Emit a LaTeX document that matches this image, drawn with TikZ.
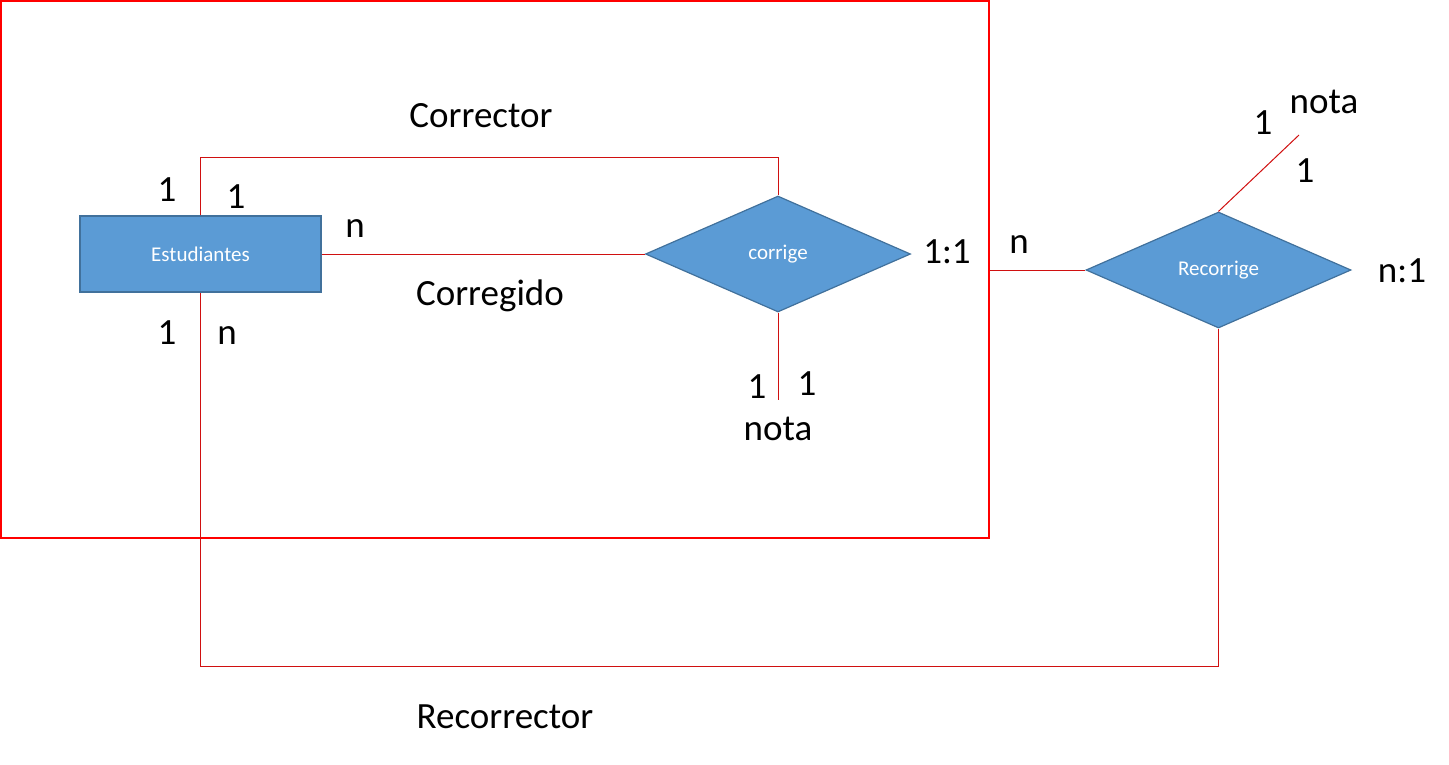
\documentclass[tikz,border=0pt]{standalone}
\usepackage{fontspec}
\setmainfont{Carlito}
\usetikzlibrary{shapes.geometric}
\definecolor{entfill}{HTML}{5B9BD5}
\definecolor{entdraw}{HTML}{41719C}
\definecolor{linkred}{HTML}{D01010}
\definecolor{boxred}{HTML}{FF0000}
\begin{document}
\begin{tikzpicture}[x=1pt,y=-1pt,
  lbl/.style={font=\fontsize{37}{40}\selectfont, anchor=base, inner sep=0pt, text=black},
  entity/.style={rectangle, fill=entfill, draw=entdraw, line width=1.5pt, minimum width=241pt, minimum height=76pt, inner sep=0pt, text=white, font=\fontsize{21}{24}\selectfont},
  rel/.style={diamond, fill=entfill, draw=entdraw, line width=1.2pt, minimum width=265pt, minimum height=116pt, inner sep=0pt, text=white, font=\fontsize{21}{24}\selectfont},
  link/.style={draw=linkred, line width=1pt},
  frame/.style={rectangle, draw=boxred, line width=2pt, inner sep=0pt}]
\useasboundingbox (0,0) rectangle (1449,764);
% frame
\node[frame, minimum width=988pt, minimum height=537pt] (box) at (495,269.5) {};
% shapes
\node[entity] (est) at (200.5,254) {\raisebox{-2pt}{Estudiantes}};
\node[rel] (cor) at (778,254) {\raisebox{-2pt}{corrige}};
\node[rel] (rec) at (1218.5,270) {\raisebox{-2pt}{Recorrige}};
\coordinate (notaend) at (778,400);
\coordinate (rnotaend) at (1299,135);
% connectors
\draw[link] (est.north) -- ++(0,-58) -| (cor.north);
\draw[link] (est.east) -- (cor.west);
\draw[link] (cor.south) -- (notaend);
\draw[link] (box.east |- rec.west) -- (rec.west);
\draw[link] (rec.north) -- (rnotaend);
\draw[link] (est.south) -- ++(0,374) -| (rec.south);
% labels
\node[lbl] (tcorrector) at (481,127) {Corrector};
\node[lbl] (tcorregido) at (490,305) {Corregido};
\node[lbl] (trecorrector) at (505,728) {Recorrector};
\node[lbl] (a1) at (167,201) {1};
\node[lbl] (a2) at (236,208) {1};
\node[lbl] (a3) at (355,237) {n};
\node[lbl] (a4) at (167,344) {1};
\node[lbl] (a5) at (227,344) {n};
\node[lbl] (a6) at (947,263) {1:1};
\node[lbl] (a7) at (1019,253) {n};
\node[lbl] (a8) at (757,398) {1};
\node[lbl] (a9) at (807,395) {1};
\node[lbl] (nota1) at (778,440) {nota};
\node[lbl] (nota2) at (1324,113) {nota};
\node[lbl] (b1) at (1263,134) {1};
\node[lbl] (b2) at (1305,182) {1};
\node[lbl] (b3) at (1402,282) {n:1};
\end{tikzpicture}
\end{document}
